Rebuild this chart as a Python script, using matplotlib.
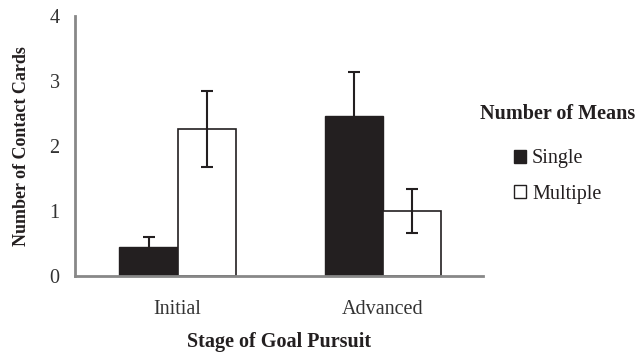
import matplotlib
matplotlib.use("Agg")
import matplotlib.pyplot as plt
from matplotlib.patches import Patch
import numpy as np

stages = ["Initial", "Advanced"]
series = ["Single", "Multiple"]
single_vals = [0.44, 2.46]
single_err = [0.16, 0.68]
multiple_vals = [2.26, 1.00]
multiple_err = [0.59, 0.34]

plt.rcParams['font.family'] = ['Liberation Serif', 'DejaVu Serif']

fig = plt.figure(figsize=(6.36, 3.54), dpi=100)
ax = fig.add_axes([75/636, 78/354, 408/636, 260/354])

x = np.arange(len(stages))
w = 0.283
ekw = dict(ecolor='#231f20', elinewidth=1.5, capsize=4, capthick=1.5)
ax.bar(x - w/2, single_vals, w, yerr=single_err, color='#231f20', edgecolor='#231f20',
       linewidth=1, error_kw=ekw, label=series[0])
ax.bar(x + w/2, multiple_vals, w, yerr=multiple_err, color='white', edgecolor='#231f20',
       linewidth=1.2, error_kw=ekw, label=series[1])

ax.set_xlim(-0.5, 1.49)
ax.set_ylim(0, 4)
ax.set_yticks([0, 1, 2, 3, 4])
ax.set_xticks(x)
ax.set_xticklabels(stages)
ax.tick_params(axis='both', length=0, labelsize=14.5, colors='#333333')
ax.tick_params(axis='y', pad=11)
ax.tick_params(axis='x', pad=17)
for s in ['top', 'right']:
    ax.spines[s].set_visible(False)
for s in ['left', 'bottom']:
    ax.spines[s].set_color('#888888')
    ax.spines[s].set_linewidth(2)

ax.set_ylabel("Number of Contact Cards", fontsize=13, fontweight='bold', color='#231f20', labelpad=14)
ax.set_xlabel("Stage of Goal Pursuit", fontsize=14.5, fontweight='bold', color='#231f20', labelpad=10)

handles = [Patch(facecolor='#231f20', edgecolor='#231f20', label=series[0]),
           Patch(facecolor='white', edgecolor='#231f20', label=series[1])]
leg = fig.legend(handles=handles, title="Number of Means", loc='center left',
                 bbox_to_anchor=(480/636, 1 - 154/354), frameon=False, fontsize=14.5,
                 title_fontproperties={'weight': 'bold', 'size': 14.5},
                 handlelength=0.6, handleheight=0.6, handletextpad=0.3,
                 labelspacing=0.8, borderpad=0, borderaxespad=0)
leg._legend_box.sep = 18
for t in leg.get_texts():
    t.set_color('#231f20')
leg.get_title().set_color('#231f20')

fig.savefig("out.png", dpi=100)
